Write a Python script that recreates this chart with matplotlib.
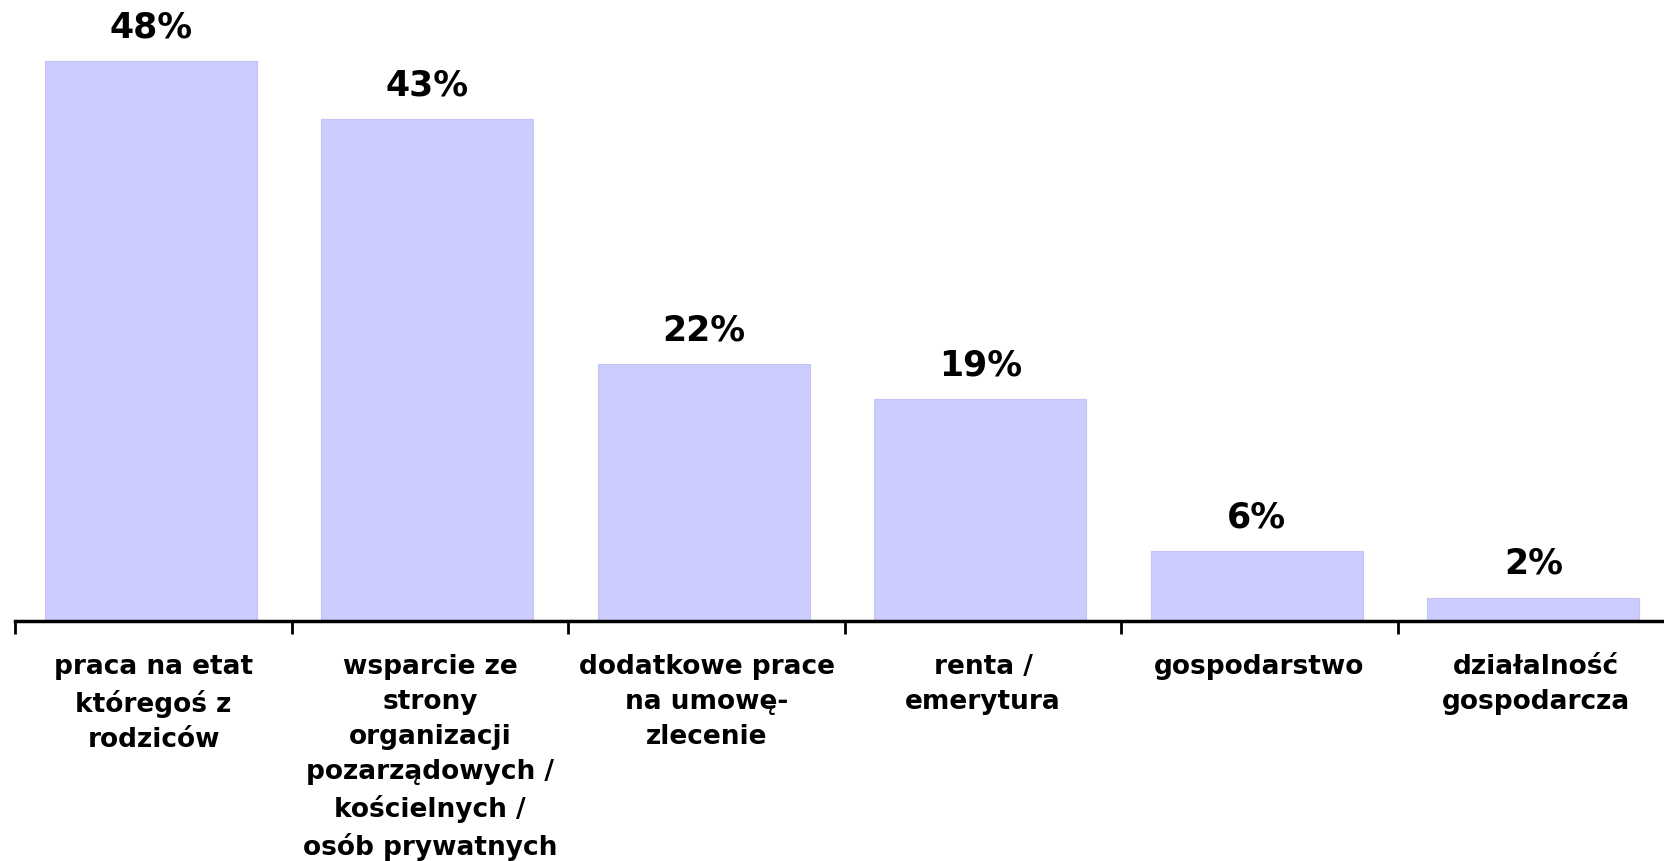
import matplotlib.pyplot as plt
import numpy as np

# data
categories = ['praca na etat\nktóregoś z\nrodziców',
              'wsparcie ze\nstrony\norganizacji\npozarządowych /\nkościelnych /\nosób prywatnych',
              'dodatkowe prace\nna umowę-\nzlecenie',
              'renta /\nemerytura',
              'gospodarstwo',
              'działalność\ngospodarcza']
values = [48, 43, 22, 19, 6, 2]

fig = plt.figure(figsize=(16.64, 8.61), dpi=100)
# axes run a little past the right edge, as in the original
ax = fig.add_axes([15.3 / 1664, 240 / 861, 1659 / 1664, 621 / 861])

x = np.arange(len(values))
ax.bar(x - 0.01, values, width=0.767, color='#ccccff', edgecolor='#c4c4f6', linewidth=0.8)

for xi, v in zip(x, values):
    ax.annotate(f'{v}%', (xi - 0.01, v), xytext=(0, 12), textcoords='offset points',
                ha='center', va='bottom', fontsize=25, fontweight='bold')

ax.set_xlim(-0.5, len(values) - 0.5)
ax.set_ylim(0, 53.2)

# ticks between categories, labels under the bars
ax.set_xticks(np.arange(len(values) + 1) - 0.5)
ax.set_xticklabels([])
ax.set_xticks(x, minor=True)
ax.set_xticklabels(categories, minor=True, fontsize=19, fontweight='bold',
                   linespacing=1.45)
ax.tick_params(axis='x', which='major', direction='out', length=9, width=2, color='black')
ax.tick_params(axis='x', which='minor', length=0, pad=24)
ax.set_yticks([])

for side in ['left', 'right', 'top']:
    ax.spines[side].set_visible(False)
ax.spines['bottom'].set_linewidth(2.5)

fig.savefig('out.png', dpi=100)
